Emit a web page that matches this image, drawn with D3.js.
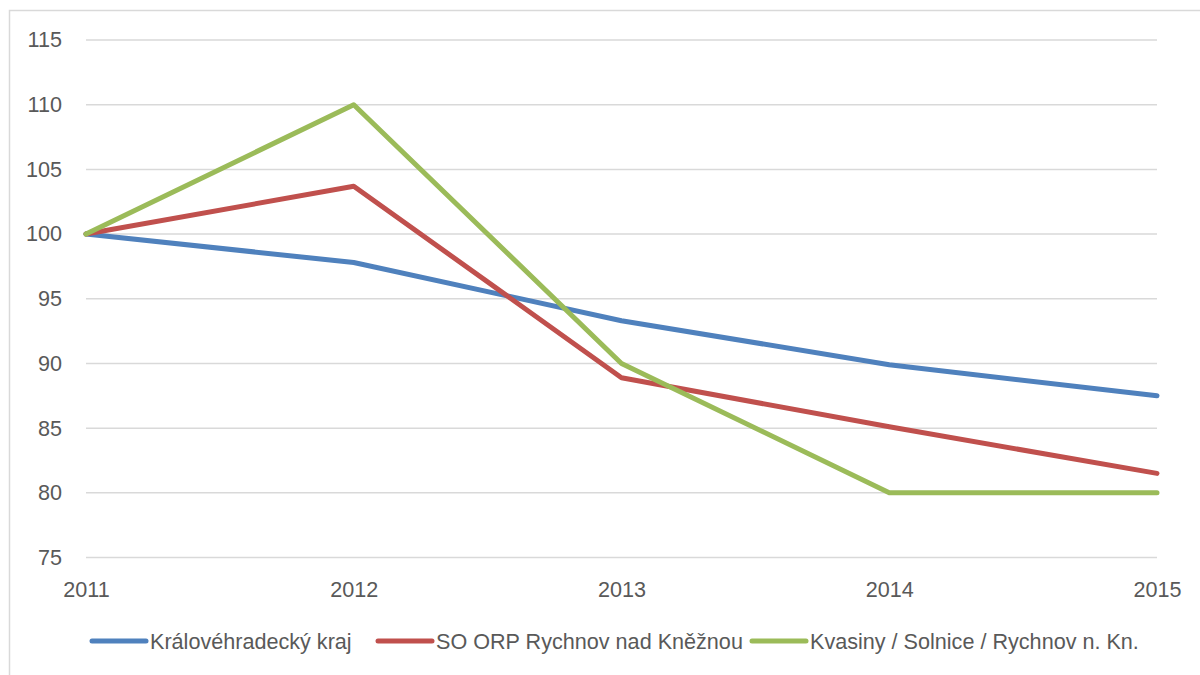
<!DOCTYPE html>
<html>
<head>
<meta charset="utf-8">
<script src="https://cdn.jsdelivr.net/npm/d3@7/dist/d3.min.js"></script>
<style>
  html, body { margin: 0; padding: 0; background: #fff; }
  svg { display: block; }
  text { font-family: "Liberation Sans", Arial, sans-serif; fill: #595959; }
</style>
</head>
<body>
<svg id="chart" width="1200" height="675"></svg>
<script>
const years = ["2011", "2012", "2013", "2014", "2015"];
const yTicks = [75, 80, 85, 90, 95, 100, 105, 110, 115];
const seriesNames = ["Královéhradecký kraj", "SO ORP Rychnov nad Kněžnou", "Kvasiny / Solnice / Rychnov n. Kn."];
const kralovehradecky = [100, 97.8, 93.3, 89.9, 87.5];
const soOrpRychnov = [100, 103.7, 88.9, 85.1, 81.5];
const kvasiny = [100, 110, 90, 80, 80];
const colors = ["#4f81bd", "#c0504d", "#9bbb59"];

const series = [kralovehradecky, soOrpRychnov, kvasiny];

const svg = d3.select("#chart");
const FS = 21.6;

// outer chart border
svg.append("rect")
  .attr("x", 9.5).attr("y", 10.5)
  .attr("width", 1200).attr("height", 700)
  .attr("fill", "none").attr("stroke", "#d9d9d9").attr("stroke-width", 1.5);

const x = d3.scalePoint().domain(years).range([86, 1157]);
const y = d3.scaleLinear().domain([75, 115]).range([557.5, 40]);

// gridlines
svg.append("g").selectAll("line").data(yTicks).join("line")
  .attr("x1", 86).attr("x2", 1157)
  .attr("y1", d => y(d)).attr("y2", d => y(d))
  .attr("stroke", "#d9d9d9").attr("stroke-width", 1.5);

// y axis labels
const yAxis = d3.axisLeft(y).tickValues(yTicks).tickSize(0).tickPadding(0);
const gy = svg.append("g").attr("transform", "translate(62,0)").call(yAxis);
gy.select(".domain").remove();
gy.selectAll("text").attr("font-size", FS).style("font-family", '"Liberation Sans", Arial, sans-serif').attr("fill", "#595959").attr("text-anchor", "end");

// x axis labels
const xAxis = d3.axisBottom(x).tickSize(0).tickPadding(0);
const gx = svg.append("g").attr("transform", "translate(0,581)").call(xAxis);
gx.select(".domain").remove();
gx.selectAll("text").attr("font-size", FS).style("font-family", '"Liberation Sans", Arial, sans-serif').attr("fill", "#595959").attr("dy", "0.75em");

// lines
const line = d3.line().x((d, i) => x(years[i])).y(d => y(d));
svg.append("g").selectAll("path").data(series).join("path")
  .attr("d", d => line(d))
  .attr("fill", "none")
  .attr("stroke", (d, i) => colors[i])
  .attr("stroke-width", 5)
  .attr("stroke-linejoin", "round")
  .attr("stroke-linecap", "round");

// legend
const legendX = [92, 378, 752];
const lg = svg.append("g").selectAll("g").data(seriesNames).join("g")
  .attr("transform", (d, i) => `translate(${legendX[i]},641)`);
lg.append("line").attr("x1", 0).attr("x2", 54).attr("y1", 0).attr("y2", 0)
  .attr("stroke", (d, i) => colors[i]).attr("stroke-width", 5).attr("stroke-linecap", "round");
lg.append("text").attr("x", 58).attr("y", 0).attr("dy", "0.35em")
  .attr("font-size", FS).text(d => d);
</script>
</body>
</html>
